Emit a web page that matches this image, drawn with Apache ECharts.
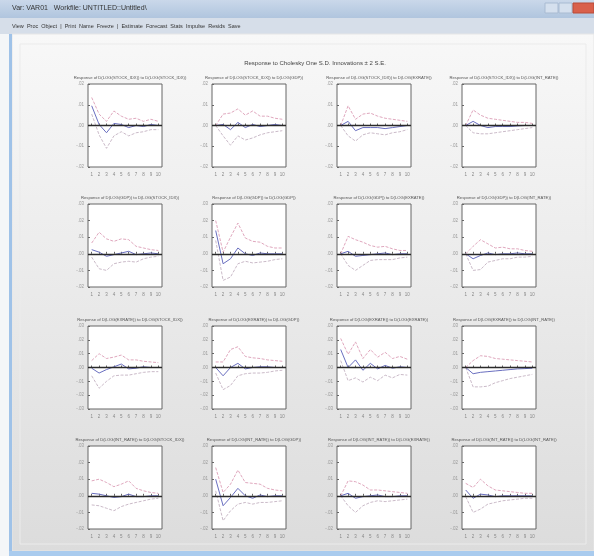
<!DOCTYPE html>
<html>
<head>
<meta charset="utf-8">
<script src="https://cdn.jsdelivr.net/npm/echarts@6/dist/echarts.min.js"></script>
<style>
  html, body { margin: 0; padding: 0; background: #f4f6f8; }
  #chart { width: 594px; height: 556px; }
</style>
</head>
<body>
<div id="chart"></div>
<script>
// 冲击响应数据 (单位: 0.01), 每个面板 10 期
const periods = ['1', '2', '3', '4', '5', '6', '7', '8', '9', '10']
const varNames = ['D(LOG(STOCK_IDX))', 'D(LOG(GDP))', 'D(LOG(EXRATE))', 'D(LOG(INT_RATE))']

// 每行的 y 轴范围
const rowMin = [-2, -2, -3, -2]
const rowMax = [2, 3, 3, 3]

// 响应 (蓝线), 按行优先排列 16 个面板
const response = [
    [0.95, 0.05, -0.35, 0.1, 0.05, -0.1, 0.0, -0.05, 0.05, 0.0],
    [0, 0.05, -0.2, 0.15, -0.1, 0.05, -0.05, 0.0, 0.05, 0.0],
    [0, 0.2, -0.25, -0.1, -0.1, -0.1, -0.15, -0.1, -0.05, 0.0],
    [0, 0.2, 0.0, -0.1, -0.05, -0.05, -0.05, -0.02, 0.0, 0.0],

    [0.25, 0.1, -0.15, -0.05, 0.05, 0.15, -0.05, 0.0, 0.05, 0.0],
    [1.4, -0.6, -0.3, 0.35, 0.0, -0.1, 0.05, 0.0, 0.0, 0.0],
    [0, 0.15, -0.15, -0.1, -0.05, 0.0, 0.05, -0.05, 0.0, 0.0],
    [0, -0.3, -0.1, 0.05, -0.05, 0.0, 0.0, 0.05, 0.0, 0.0],

    [-0.05, -0.4, -0.15, 0.05, 0.25, -0.1, -0.05, 0.05, 0.0, 0.0],
    [0.0, -0.6, 0.0, 0.3, -0.1, 0.0, 0.05, 0.05, 0.0, 0.0],
    [1.3, 0.0, 0.55, -0.2, 0.3, -0.1, 0.15, -0.05, 0.05, 0.0],
    [0, -0.45, -0.35, -0.3, -0.25, -0.2, -0.15, -0.1, -0.08, -0.05],

    [0.15, 0.1, 0.0, -0.1, -0.05, 0.1, -0.05, -0.05, 0.0, 0.0],
    [1.0, -0.6, -0.1, 0.45, 0.0, -0.15, 0.05, -0.05, 0.0, 0.0],
    [0, 0.15, -0.15, -0.05, 0.0, 0.05, -0.05, -0.05, 0.0, 0.0],
    [0.35, -0.15, 0.1, 0.05, -0.05, 0.0, 0.0, 0.0, 0.0, 0.0]
]

// +2 S.E. 上界
const upperBand = [
    [1.35, 0.55, 0.2, 0.7, 0.45, 0.3, 0.35, 0.2, 0.3, 0.2],
    [0, 0.55, 0.6, 0.8, 0.5, 0.7, 0.45, 0.45, 0.35, 0.3],
    [0, 0.95, 0.3, 0.55, 0.6, 0.45, 0.35, 0.3, 0.25, 0.2],
    [0, 0.75, 0.5, 0.35, 0.3, 0.25, 0.2, 0.15, 0.15, 0.1],

    [0.65, 1.3, 0.9, 0.75, 0.9, 0.85, 0.45, 0.35, 0.25, 0.2],
    [2.0, 0.1, 1.0, 1.85, 0.95, 0.75, 0.7, 0.45, 0.35, 0.35],
    [0, 1.05, 0.85, 0.7, 0.5, 0.4, 0.45, 0.3, 0.2, 0.2],
    [0, 0.45, 0.85, 0.6, 0.35, 0.4, 0.3, 0.3, 0.2, 0.15],

    [0.5, 1.0, 0.65, 0.75, 0.9, 0.55, 0.55, 0.45, 0.4, 0.35],
    [0.4, 0.4, 1.3, 1.5, 0.8, 0.7, 0.65, 0.55, 0.5, 0.45],
    [2.1, 0.95, 1.85, 0.65, 1.3, 0.75, 1.1, 0.65, 0.8, 0.6],
    [0, 0.5, 0.85, 0.8, 0.65, 0.6, 0.55, 0.5, 0.45, 0.4],

    [0.9, 1.0, 0.8, 0.55, 0.7, 0.9, 0.45, 0.3, 0.2, 0.15],
    [1.7, 0.2, 0.7, 1.55, 0.8, 0.75, 0.7, 0.45, 0.35, 0.3],
    [0, 0.9, 0.85, 0.65, 0.35, 0.35, 0.3, 0.25, 0.2, 0.15],
    [0.75, 0.5, 1.0, 0.6, 0.35, 0.3, 0.25, 0.2, 0.15, 0.15]
]

// -2 S.E. 下界
const lowerBand = [
    [0.55, -0.45, -1.1, -0.5, -0.3, -0.5, -0.35, -0.3, -0.2, -0.2],
    [0, -0.5, -0.95, -0.5, -0.7, -0.6, -0.45, -0.35, -0.3, -0.25],
    [0, -0.5, -0.75, -0.45, -0.35, -0.4, -0.45, -0.35, -0.3, -0.2],
    [0, -0.35, -0.4, -0.4, -0.35, -0.3, -0.25, -0.2, -0.15, -0.1],

    [-0.2, -0.9, -1.0, -0.6, -0.5, -0.45, -0.5, -0.3, -0.2, -0.15],
    [0.8, -1.6, -1.4, -0.6, -0.45, -0.55, -0.5, -0.45, -0.35, -0.3],
    [0, -0.7, -1.0, -0.7, -0.4, -0.35, -0.35, -0.35, -0.25, -0.2],
    [0, -1.0, -0.95, -0.5, -0.4, -0.3, -0.3, -0.2, -0.2, -0.15],

    [-0.6, -1.5, -1.0, -0.6, -0.55, -0.55, -0.45, -0.35, -0.3, -0.3],
    [-0.4, -1.6, -1.3, -0.6, -0.45, -0.4, -0.4, -0.35, -0.25, -0.2],
    [0.5, -0.95, -0.75, -1.05, -0.7, -0.95, -0.55, -0.75, -0.5, -0.55],
    [0, -1.4, -1.4, -1.35, -1.1, -0.95, -0.8, -0.7, -0.6, -0.5],

    [-0.55, -0.6, -0.75, -0.9, -0.65, -0.5, -0.4, -0.3, -0.2, -0.15],
    [0.3, -1.5, -0.9, -0.5, -0.4, -0.5, -0.4, -0.4, -0.35, -0.3],
    [0, -0.6, -1.0, -0.6, -0.4, -0.3, -0.35, -0.3, -0.25, -0.2],
    [-0.05, -1.0, -0.8, -0.5, -0.4, -0.3, -0.25, -0.2, -0.15, -0.15]
]

// 面板布局
const colLeft = [88, 212, 337, 462]
const rowTop = [84, 204, 326, 446]
const plotW = 74
const plotH = 83

// EViews 风格刻度 (.01, -.02)
const fmtTick = v => {
    const s = (v / 100).toFixed(2)
    return s.replace('0.', '.')
}

const grids = [], xAxes = [], yAxes = [], series = [], titles = []

titles.push({
    text: 'Response to Cholesky One S.D. Innovations \u00b1 2 S.E.',
    left: 310, top: 55, textAlign: 'center',
    textStyle: {fontSize: 6, fontWeight: 'normal', color: '#444', fontFamily: 'Liberation Sans'}
})

for (let r = 0; r < 4; r++) {
    for (let c = 0; c < 4; c++) {
        const k = r * 4 + c
        grids.push({left: colLeft[c], top: rowTop[r], width: plotW, height: plotH,
            show: true, backgroundColor: '#fff', borderColor: '#666', borderWidth: 1})
        titles.push({
            text: 'Response of ' + varNames[r] + ' to ' + varNames[c],
            left: colLeft[c] + plotW / 2, top: rowTop[r] - 13, textAlign: 'center',
            textStyle: {fontSize: 4.2, fontWeight: 'normal', color: '#555', fontFamily: 'Liberation Sans'}
        })
        xAxes.push({
            type: 'category', gridIndex: k, data: periods, boundaryGap: true,
            axisLine: {show: false},
            axisTick: {show: true, inside: true, length: 2, alignWithLabel: true, lineStyle: {color: '#666'}},
            axisLabel: {fontSize: 4.5, color: '#888', margin: 5, interval: 0}
        })
        yAxes.push({
            type: 'value', gridIndex: k, min: rowMin[r], max: rowMax[r], interval: 1,
            axisLine: {show: false},
            axisTick: {show: true, inside: true, length: 2, lineStyle: {color: '#666'}},
            splitLine: {show: false},
            axisLabel: {fontSize: 4.5, color: '#999', margin: 4, formatter: fmtTick}
        })
        series.push({
            type: 'line', xAxisIndex: k, yAxisIndex: k, data: upperBand[k],
            symbol: 'none', silent: true,
            lineStyle: {color: '#dc9db6', width: 1, type: [3, 1.5], opacity: 0.9}
        })
        series.push({
            type: 'line', xAxisIndex: k, yAxisIndex: k, data: lowerBand[k],
            symbol: 'none', silent: true,
            lineStyle: {color: '#c4b2c2', width: 1, type: [3, 1.5], opacity: 0.9}
        })
        series.push({
            type: 'line', xAxisIndex: k, yAxisIndex: k, data: response[k],
            symbol: 'none', silent: true, z: 3,
            lineStyle: {color: '#6a6fc0', width: 1},
            markLine: {
                silent: true, symbol: 'none', label: {show: false},
                lineStyle: {color: '#2a2a2a', width: 1.3, type: 'solid'},
                data: [{yAxis: 0}]
            }
        })
    }
}

// 窗口外框 (EViews 截图)
const chrome = [
    {type: 'rect', shape: {x: 0, y: 0, width: 594, height: 556}, style: {fill: '#f4f6f8'}, z: -10},
    {type: 'rect', shape: {x: 0, y: 0, width: 594, height: 18},
        style: {fill: new echarts.graphic.LinearGradient(0, 0, 0, 1, [
            {offset: 0, color: '#cad8ea'}, {offset: 1, color: '#b0c5de'}])}, z: -9},
    {type: 'text', x: 12, y: 5, style: {text: 'Var: VAR01   Workfile: UNTITLED::Untitled\\', fontSize: 7, fill: '#333', fontFamily: 'Liberation Sans'}, z: -8},
    {type: 'rect', shape: {x: 545, y: 3, width: 13, height: 10}, style: {fill: '#d5e0ee', stroke: '#a9bbd2'}, z: -8},
    {type: 'rect', shape: {x: 559, y: 3, width: 13, height: 10}, style: {fill: '#d5e0ee', stroke: '#a9bbd2'}, z: -8},
    {type: 'rect', shape: {x: 573, y: 3, width: 21, height: 10}, style: {fill: '#d9604b', stroke: '#b94a38'}, z: -8},
    {type: 'rect', shape: {x: 0, y: 18, width: 594, height: 16}, style: {fill: '#d6dee9'}, z: -9},
    {type: 'text', x: 12, y: 23, style: {text: 'View  Proc  Object  |  Print  Name  Freeze  |  Estimate  Forecast  Stats  Impulse  Resids  Save', fontSize: 5.5, fill: '#333', fontFamily: 'Liberation Sans'}, z: -8},
    {type: 'rect', shape: {x: 12, y: 34, width: 582, height: 517},
        style: {fill: new echarts.graphic.LinearGradient(0, 0, 0, 1, [
            {offset: 0, color: '#f8f8f8'}, {offset: 1, color: '#dcdcdc'}]), stroke: '#e6e6e6'}, z: -9},
    {type: 'rect', shape: {x: 20, y: 44, width: 566, height: 500}, style: {fill: 'none', stroke: '#ebebeb'}, z: -8},
    {type: 'rect', shape: {x: 9, y: 34, width: 3, height: 518}, style: {fill: '#9fc2e8'}, z: -8},
    {type: 'rect', shape: {x: 9, y: 551, width: 585, height: 5}, style: {fill: '#a9cbee'}, z: -8}
]

const chart = echarts.init(document.getElementById('chart'))
chart.setOption({
    animation: false,
    backgroundColor: '#f4f6f8',
    title: titles,
    grid: grids,
    xAxis: xAxes,
    yAxis: yAxes,
    series: series,
    graphic: chrome
})
</script>
</body>
</html>
